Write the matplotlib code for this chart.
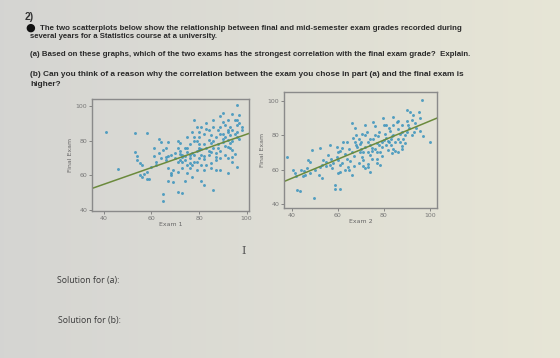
import numpy as np
import matplotlib
matplotlib.use("Agg")
import matplotlib.pyplot as plt

# exam 1 vs final exam
exam1 = [41, 46, 53, 58, 53, 54, 54, 55, 56, 55, 56, 58, 59, 63, 64, 61, 61, 62,
         65, 66, 67, 67, 67, 65, 65, 68, 68, 67, 69, 71, 73, 71, 72, 71, 72, 73,
         74, 73, 75, 75, 76, 75, 76, 75, 77, 74, 78, 79, 80, 78, 79, 80, 80, 81,
         82, 79, 81, 82, 81, 82, 86, 83, 85, 84, 85, 86, 85, 87, 87, 85, 87, 89,
         92, 89, 90, 91, 92, 89, 90, 92, 93, 92, 94, 95, 94, 94, 96, 97, 95, 96,
         96, 97, 98, 94, 96,
         70, 71, 72, 73, 74, 76, 77, 78, 79, 80, 81, 82, 83, 84, 84, 86, 87, 88,
         88, 89, 90, 90, 91, 92, 93, 93, 94, 95, 89, 88, 86, 84, 82, 80, 78, 76,
         74, 72, 70, 68, 66, 64, 69, 71, 73, 77, 79, 83, 85, 89, 91, 92, 75, 77,
         81, 83, 86, 90, 92, 96, 97, 98, 96, 94, 93, 91, 87, 82, 80, 78, 76, 62,
         60, 58, 57, 63, 66]
final1 = [85, 63.5, 84.5, 84.5, 73.5, 71, 69, 67, 66, 60, 59, 58, 58, 81, 79,
          75.5, 71, 66, 74.5, 70.5, 71, 79, 64, 49.5, 45, 60, 61.5, 57, 56, 50.5,
          50, 80, 78.5, 75.5, 72.5, 70.5, 69, 67.5, 75.5, 73.5, 71.5, 66, 64,
          61.5, 59, 56.5, 92, 88, 85, 82, 80, 78, 74.5, 71.5, 69.5, 68, 66, 63,
          56.5, 54.5, 51.5, 87, 83, 80.5, 78.5, 75.5, 73.5, 70.5, 69, 67, 63, 63,
          61.5, 94, 91, 89, 86, 84, 81, 80.5, 78.5, 76.5, 74.5, 72.5, 70.5, 95.5,
          100.5, 94.5, 92, 89, 85, 81, 88, 68, 65,
          70, 68, 69, 72, 71, 70, 73, 72, 74, 76, 75, 78, 76, 74, 72, 80, 82,
          78, 76, 74, 79, 84, 82, 85, 83, 88, 86, 84, 88, 86, 88, 86, 84, 82,
          80, 78, 76, 74, 73, 72, 69, 70, 63, 62, 64, 66, 63, 66, 64, 70, 72,
          70, 82, 85, 88, 90, 92, 96, 92, 92, 90, 86, 82, 80, 76, 77, 73, 71,
          70, 68, 67, 68, 65, 62, 61, 73, 76]

# exam 2 vs final exam
exam2 = [38, 40.7, 41.5, 42, 42.5, 43.6, 44, 45.5, 44.8, 46.5, 47, 48, 48.7,
         49.7, 52.3, 53, 52, 53, 52.3, 53.7, 54.9, 55.9, 56.6, 57.3, 56.6, 59.5,
         58.8, 58.8, 61, 59.5, 60, 61, 61, 60, 61.7, 62.4, 63, 63.8, 64.5, 65.3,
         66, 66, 67.5, 66.7, 67.5, 68.2, 69, 69.7, 70.4, 69.7, 70.4, 71, 71.8,
         72.5, 71.8, 73, 73.9, 73, 74, 74.7, 75.4, 76, 75.4, 76.9, 77.5, 76.9,
         78.3, 78.3, 79, 79.7, 81, 80.4, 81, 81.9, 82.6, 83.3, 81.9, 83.3, 84.7,
         84, 85.5, 86.2, 87, 88.4, 87.7, 89, 89.8, 91.3, 92.7, 92, 90.5, 93.4,
         94, 96.4, 95, 95.7, 97, 100, 95.7,
         65, 66, 67, 68, 70, 71, 72, 73, 74, 75, 76, 77, 78, 79, 80, 81, 82, 83,
         84, 85, 86, 87, 88, 89, 90, 91, 92, 93, 82, 80, 78, 76, 74, 72, 70, 84,
         86, 88, 79, 77, 75, 73, 71, 69, 67, 65, 63, 62, 58, 57, 55, 50, 48, 46,
         60, 61, 64, 68, 84, 86, 88, 90, 83]
final2 = [67.5, 59.8, 58, 56, 48, 47.5, 60, 59, 56, 61, 65.6, 64.6, 71.4, 43.4,
          61.7, 62.7, 57, 55, 72.7, 65.6, 64.3, 68.5, 62.5, 60.7, 74, 73.3, 51,
          49, 49, 67.5, 65.6, 62.7, 58.8, 58, 72.6, 75.8, 69, 66, 61.7, 65, 57,
          87, 84, 78.4, 75.8, 73, 78, 75, 80.6, 70.4, 67.5, 65.6, 86, 82, 60.7,
          61.7, 58.8, 70.4, 68.5, 72.4, 87.8, 85, 77.6, 75.7, 79.4, 63.6, 62.7,
          70.4, 73.3, 89.7, 85.9, 80.4, 78.4, 76.7, 82.3, 79.4, 71.6, 69.6, 70.6,
          90.7, 87.8, 83.3, 80.4, 77.5, 73.5, 75.5, 94.6, 93.6, 91.7, 88.8, 85.9,
          86.8, 84, 100.4, 93.6, 82.2, 79.4, 76.2, 89.7,
          72, 70, 68, 74, 72, 70, 73, 76, 74, 71, 72, 70, 74, 76, 77, 74, 76, 78,
          80, 76, 78, 76, 82, 80, 82, 84, 80, 82, 84, 86, 82, 80, 78, 80, 76, 72,
          70, 72, 68, 66, 66, 63, 62, 64, 62, 60, 60, 64, 64, 66, 62, 60, 58, 57,
          70, 71, 76, 80, 86, 88, 86, 88, 74]

# fitted lines as drawn in the picture: (intercept, slope)
fit1 = (35.7, 0.48)
fit2 = (32.7, 0.555)

ticks = [40, 60, 80, 100]

fig = plt.figure(figsize=(5.6, 3.58), dpi=100)

# photo-like page background
bg = fig.add_axes([0, 0, 1, 1], zorder=-5)
grad = np.linspace(0, 1, 256)
c0 = np.array([0.835, 0.835, 0.825])
c1 = np.array([0.905, 0.900, 0.840])
img = c0[None, None, :] + (c1 - c0)[None, None, :] * grad[None, :, None]
img = np.repeat(img, 2, axis=0)
bg.imshow(img, aspect="auto", extent=[0, 1, 0, 1])
bg.axis("off")

txt = dict(family="Liberation Sans", color="#2a2a2a", va="center", weight="bold")
fig.text(25 / 560, 1 - 17 / 358, "2)", family="Liberation Sans", color="#333333",
         fontsize=7.5, va="center", weight="bold")
fig.text(30 / 560, 1 - 28 / 358, "\u25cf", color="#111111", fontsize=8, va="center",
         ha="center")
fig.text(40 / 560, 1 - 28 / 358,
         "The two scatterplots below show the relationship between final and "
         "mid-semester exam grades recorded during", fontsize=5.65, **txt)
fig.text(30 / 560, 1 - 37 / 358,
         "several years for a Statistics course at a university.", fontsize=5.6,
         **txt)
fig.text(30 / 560, 1 - 54 / 358,
         "(a) Based on these graphs, which of the two exams has the strongest "
         "correlation with the final exam grade?  Explain.", fontsize=5.66, **txt)
fig.text(30 / 560, 1 - 75 / 358,
         "(b) Can you think of a reason why the correlation between the exam you "
         "chose in part (a) and the final exam is", fontsize=5.95, **txt)
fig.text(30 / 560, 1 - 85 / 358, "higher?", fontsize=5.95, **txt)

fig.text(57 / 560, 1 - 281 / 358, "Solution for (a):", family="Open Sans",
         color="#3a3a3a", fontsize=6.3, va="center")
fig.text(58 / 560, 1 - 321 / 358, "Solution for (b):", family="Open Sans",
         color="#3a3a3a", fontsize=6.3, va="center")
fig.text(244 / 560, 1 - 251 / 358, "I", family="DejaVu Serif", color="#555555",
         fontsize=8, va="center", ha="center")

panels = [
    ([92 / 560, 1 - 211 / 358, 157 / 560, 112 / 358], exam1, final1, fit1,
     (35, 101), (39.5, 104), "Exam 1"),
    ([284 / 560, 1 - 208 / 358, 153 / 560, 116 / 358], exam2, final2, fit2,
     (36.7, 103), (37.7, 105), "Exam 2"),
]

for rect, xs, ys, fit, xl, yl, xlab in panels:
    ax = fig.add_axes(rect)
    ax.set_facecolor("none")
    ax.scatter(xs, ys, s=4.5, color="#3a93bd", alpha=0.85, linewidths=0)
    xx = np.array(xl)
    ax.plot(xx, fit[0] + fit[1] * xx, color="#6b8a3c", lw=1.1)
    ax.set_xlim(xl)
    ax.set_ylim(yl)
    ax.set_xticks(ticks)
    ax.set_yticks(ticks)
    ax.tick_params(labelsize=4.5, colors="#777777", length=2.5, width=0.6, pad=1)
    for sp in ax.spines.values():
        sp.set_color("#8a8a8a")
        sp.set_linewidth(1.0)
    ax.set_xlabel(xlab, fontsize=4.5, color="#666666", labelpad=1)
    ax.set_ylabel("Final Exam", fontsize=4.5, color="#666666", labelpad=2)

fig.savefig("out.png", dpi=100)
